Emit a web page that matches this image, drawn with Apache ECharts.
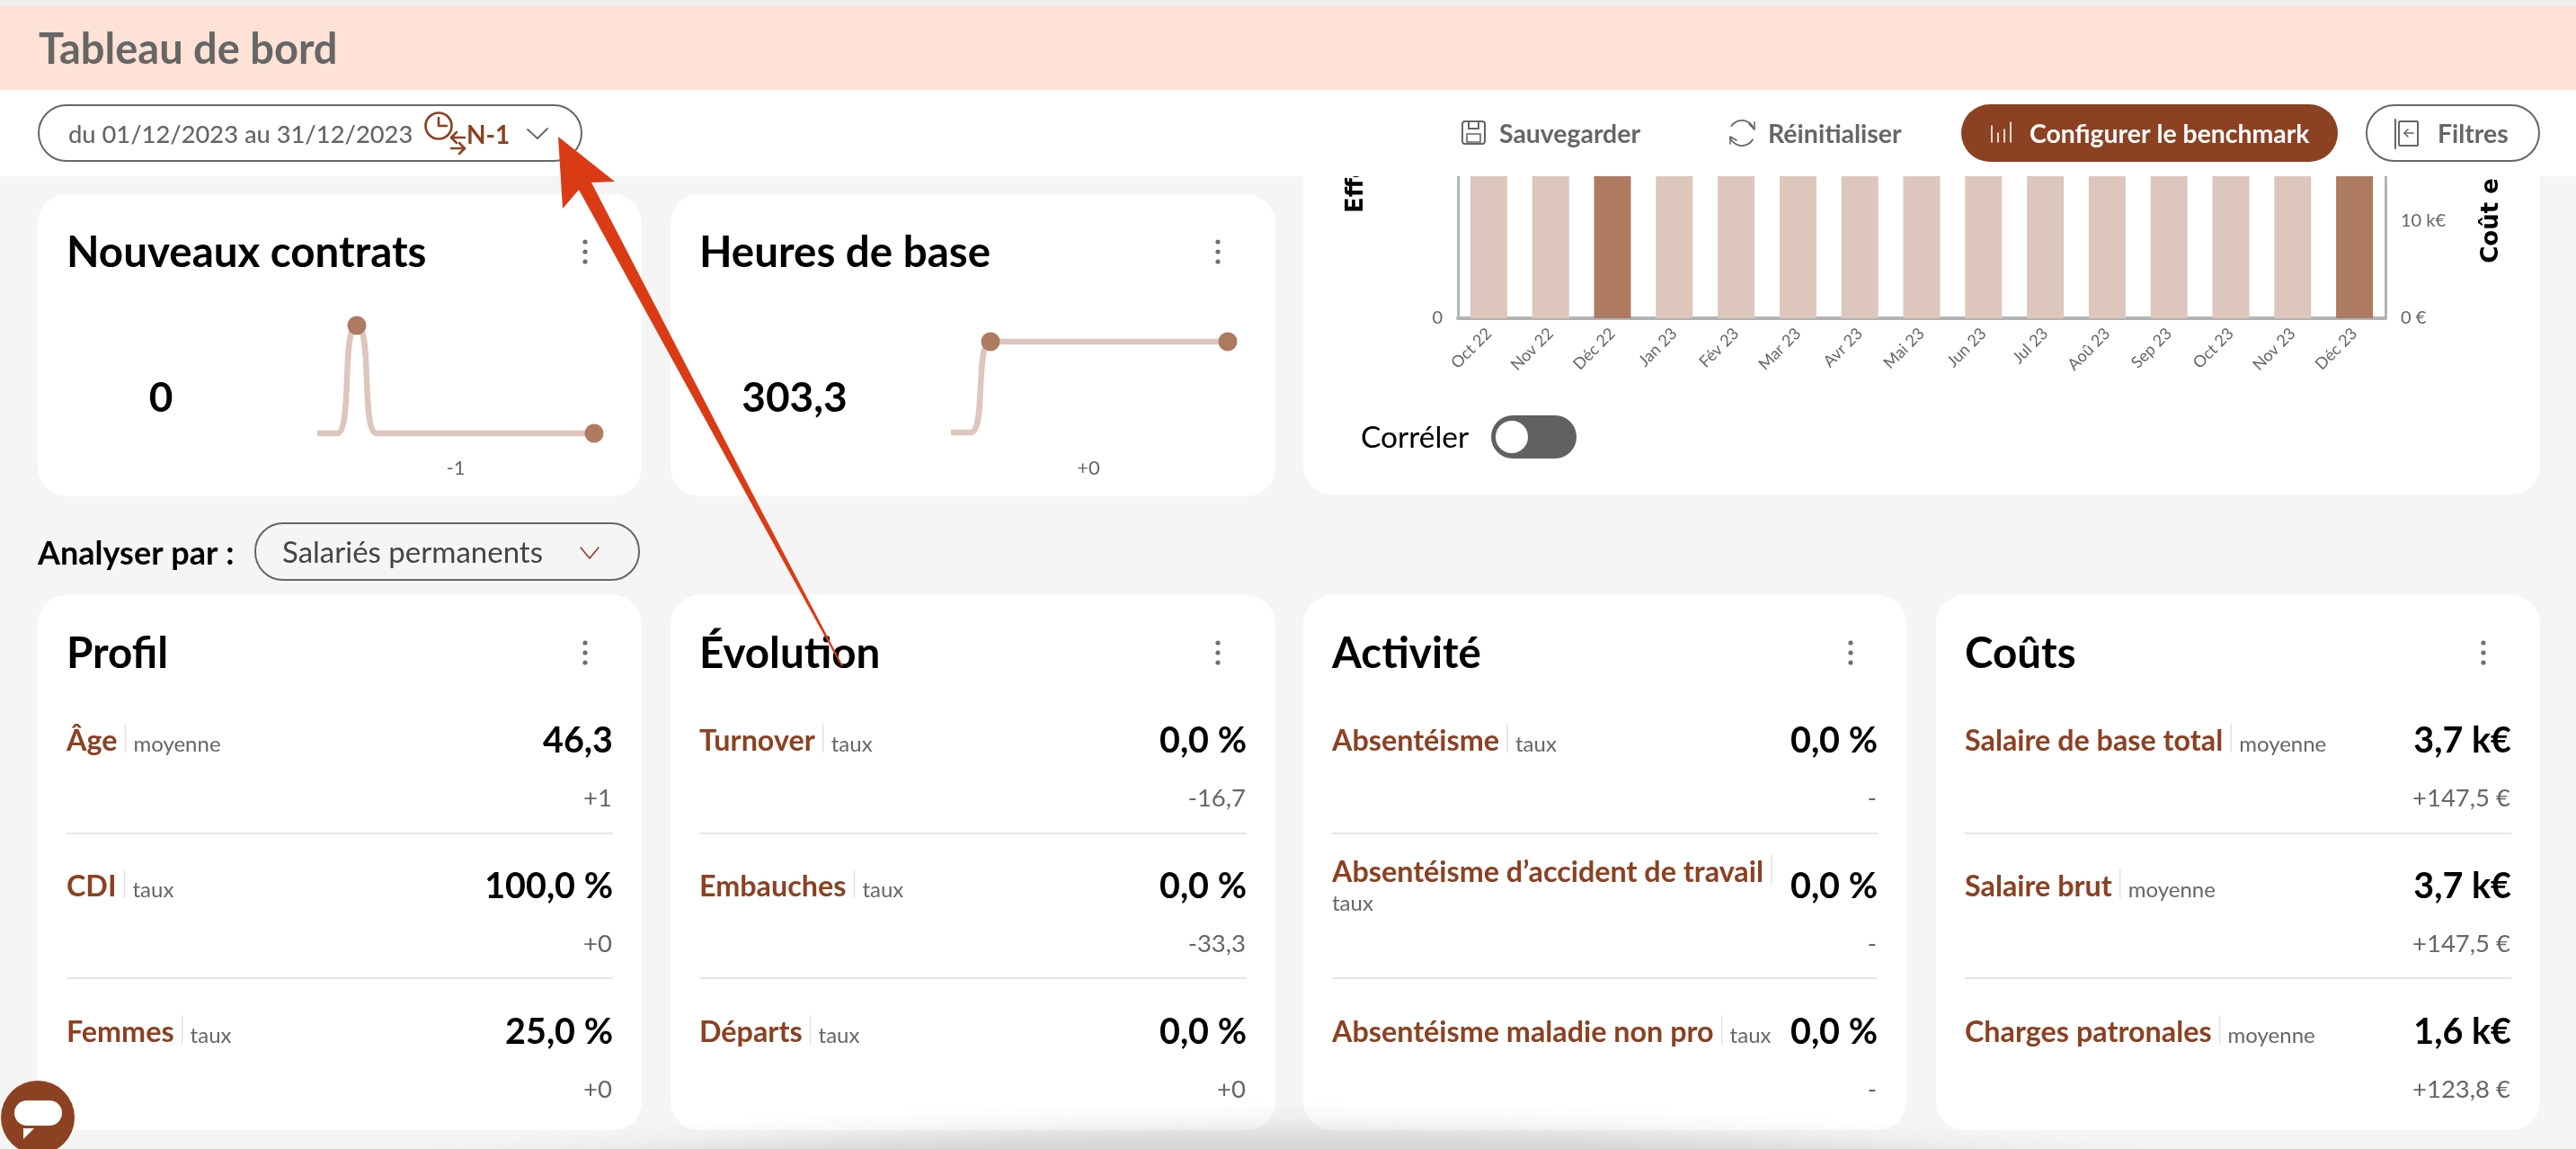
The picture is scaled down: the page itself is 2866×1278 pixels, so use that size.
<!DOCTYPE html>
<html lang="fr">
<head>
<meta charset="utf-8">
<title>Tableau de bord</title>
<style>html,body{margin:0;padding:0;background:#f5f5f5}#c{width:2866px;height:1278px}</style>
<script src="https://cdn.jsdelivr.net/npm/echarts@6/dist/echarts.min.js"></script>
</head>
<body>
<div id="c"></div>
<script>
const months = ['Oct 22','Nov 22','Déc 22','Jan 23','Fév 23','Mar 23','Avr 23','Mai 23','Jun 23','Jul 23','Aoû 23','Sep 23','Oct 23','Nov 23','Déc 23'];
const effectifs = [4,4,4,4,4,4,4,4,4,4,4,4,4,4,4];
const highlighted = ['Déc 22','Déc 23'];
const nouveauxContrats = [0,0,1,0,0,0,0,0,0,0,0,0,0,0,0];
const heuresDeBase = [0,0,303.3,303.3,303.3,303.3,303.3,303.3,303.3,303.3,303.3,303.3,303.3,303.3,303.3];
const profilRows = [['Âge','moyenne','46,3','+1'],['CDI','taux','100,0 %','+0'],['Femmes','taux','25,0 %','+0']];
const evolutionRows = [['Turnover','taux','0,0 %','-16,7'],['Embauches','taux','0,0 %','-33,3'],['Départs','taux','0,0 %','+0']];
const activiteRows = [['Absentéisme','taux','0,0 %','-'],['Absentéisme d’accident de travail','taux','0,0 %','-'],['Absentéisme maladie non pro','taux','0,0 %','-']];
const coutsRows = [['Salaire de base total','moyenne','3,7 k€','+147,5 €'],['Salaire brut','moyenne','3,7 k€','+147,5 €'],['Charges patronales','moyenne','1,6 k€','+123,8 €']];

const BROWN='#8C4122', BAR='#DDC6BC', BARDARK='#AE7A60', GREY='#666666', FONT='Lato';
const measureCtx=document.createElement('canvas').getContext('2d');
function tw(s,size,weight){measureCtx.font=`${weight} ${size}px ${FONT}`;return measureCtx.measureText(s).width;}

const g=[];
function rect(x,y,w,h,r,fill,z,stroke,lw){g.push({type:'rect',z:z,silent:true,shape:{x,y,width:w,height:h,r},style:{fill:fill||'transparent',stroke:stroke||null,lineWidth:lw||0}});}
function text(s,x,y,size,weight,fill,align,z){g.push({type:'text',z:z===undefined?5:z,silent:true,style:{text:s,x,y,fontFamily:FONT,fontSize:size,fontWeight:weight,fill,textAlign:align||'left',textVerticalAlign:'middle',verticalAlign:'middle'}});}
function line(pts,stroke,lw,z){g.push({type:'polyline',z:z===undefined?5:z,silent:true,shape:{points:pts},style:{stroke,lineWidth:lw,fill:null,lineCap:'round',lineJoin:'round'}});}
function circle(cx,cy,r,fill,z,stroke,lw){g.push({type:'circle',z:z===undefined?5:z,silent:true,shape:{cx,cy,r},style:{fill:fill||'transparent',stroke:stroke||null,lineWidth:lw||0}});}
function kebab(x,y){[-11,0,11].forEach(d=>circle(x,y+d,2.6,'#6f6f6f',5));}

/* --- cards --- */
rect(42,216,672,336,32,'#fff',-10);
rect(746,216,673,336,32,'#fff',-10);
rect(1450,150,1376,400,32,'#fff',-10);
text('Nouveaux contrats',74,282,47.5,700,'#000');
text('Heures de base',778,282,47.5,700,'#000');
kebab(651,280);kebab(1355,280);
text('0',179,443,46,700,'#000','center');
text('303,3',884,443,46,700,'#000','center');
text('-1',507,521,22,400,GREY,'center');
text('+0',1211,521,22,400,GREY,'center');

/* correlate toggle */
text('Corréler',1514,487,33.5,400,'#000');
rect(1659,462,95,48,24,'#616161',3);
circle(1682,486,18,'#fff',4);

/* analyser par */
text('Analyser par :',42,616,36,700,'#000');
rect(284,582,427,63,31,'#f5f5f5',1,'#666',2);
text('Salariés permanents',314,615,33,400,'#444');
line([[646,609],[656,621],[666,609]],BROWN,1.6);

/* KPI cards */
const columns=[[42,672,74,682,'Profil',profilRows,651],[746,673,778,1387,'Évolution',evolutionRows,1355],[1450,671,1482,2089,'Activité',activiteRows,2059],[2154,672,2186,2794,'Coûts',coutsRows,2763]];
const rowY=[823,985,1147], deltaY=[887,1049,1211], divY=[927,1088];
columns.forEach(([cx,cw,l,r,title,rows,kx])=>{
  rect(cx,662,cw,595,32,'#fff',-10);
  text(title,l,728,47.5,700,'#000');
  kebab(kx,726);
  rows.forEach((row,i)=>{
    const w=tw(row[0],32.3,700);
    const wrapped=row[0].includes('accident');
    const y=wrapped?rowY[i]-16:rowY[i];
    text(row[0],l,y+2,32.3,700,BROWN);
    const sx=l+w+9;
    g.push({type:'line',z:5,silent:true,shape:{x1:sx,y1:y-18,x2:sx,y2:y+14},style:{stroke:'#e2e2e2',lineWidth:1.5}});
    if(wrapped) text(row[1],l,y+36,24,400,GREY); else text(row[1],sx+9,y+5,24,400,GREY);
    text(row[2],r,rowY[i]+1,39.5,700,'#000','right');
    text(row[3],r-1,deltaY[i]+1,27.5,400,GREY,'right');
    if(i<2) g.push({type:'line',z:5,silent:true,shape:{x1:l,y1:divY[i],x2:r,y2:divY[i]},style:{stroke:'#E6E6EA',lineWidth:2}});
  });
});

/* --- header --- */
const H=60;
rect(0,100,2866,96,0,'#fff',H);
rect(0,0,2866,6,0,'#ECEEF0',H);
rect(0,6,2866,94,0,'#FEE2D6',H);
text('Tableau de bord',43,56,47,700,GREY,'left',H+1);
rect(43,117,604,62,31,'#fff',H+1,'#666',2);
text('du 01/12/2023 au 31/12/2023',76,150,27.3,500,GREY,'left',H+2);
circle(488,140,14.5,null,H+2,BROWN,2.6);
line([[488,131],[488,140],[497,140]],BROWN,2.6,H+2);
line([[517,153],[502,153]],BROWN,2.5,H+2);line([[508,147],[502,153],[508,159]],BROWN,2.5,H+2);
line([[502,165],[517,165]],BROWN,2.5,H+2);line([[511,159],[517,165],[511,171]],BROWN,2.5,H+2);
text('N-1',519,151,28,700,BROWN,'left',H+2);
line([[587,144],[598,154],[609,143]],GREY,1.8,H+2);

rect(1627,135,25,25,3,null,H+2,GREY,2);
rect(1634,135,11,8,0,null,H+2,GREY,2);
rect(1632,149,15,9,0,null,H+2,GREY,1.6);
text('Sauvegarder',1668,150,28.4,700,GREY,'left',H+2);

g.push({type:'arc',z:H+2,silent:true,shape:{cx:1938,cy:148,r:14,startAngle:-2.6,endAngle:-0.3},style:{stroke:GREY,lineWidth:1.8,fill:null}});
g.push({type:'arc',z:H+2,silent:true,shape:{cx:1938,cy:148,r:14,startAngle:0.5,endAngle:2.85},style:{stroke:GREY,lineWidth:1.8,fill:null}});
line([[1946,138],[1952,144],[1952,136]],GREY,1.6,H+2);
line([[1925,160],[1925,152],[1932,156]],GREY,1.6,H+2);
text('Réinitialiser',1967,150,28.5,700,GREY,'left',H+2);

rect(2182,116,419,64,32,BROWN,H+1);
[[2216,148,166],[2223,156,166],[2230,152,166],[2237,144,166]].forEach(p=>line([[p[0],p[1]-8],[p[0],p[2]-8]],'#fff',1.6,H+2));
text('Configurer le benchmark',2258,150,28.4,700,'#fff','left',H+2);

rect(2633,117,192,62,31,'#fff',H+1,'#666',2);
rect(2669,135,21,27,1,null,H+2,GREY,2);
line([[2665,133],[2665,165]],GREY,2,H+2);
line([[2685,148],[2675,148]],GREY,1.6,H+2);line([[2679,144],[2675,148],[2679,152]],GREY,1.6,H+2);
text('Filtres',2712,150,28.4,700,GREY,'left',H+2);

/* --- page bottom shadow --- */
g.push({type:'circle',z:70,silent:true,shape:{cx:1433,cy:11225,r:10000},style:{fill:{type:'radial',x:0.5,y:0.5,r:0.5,colorStops:[{offset:0,color:'rgba(0,0,0,0.14)'},{offset:0.9955,color:'rgba(0,0,0,0.12)'},{offset:0.998,color:'rgba(0,0,0,0.03)'},{offset:1,color:'rgba(0,0,0,0)'}]}}});

/* --- chat bubble --- */
circle(42,1243,41,BROWN,71);
rect(16,1224,53,28,14,'#fff',72);
g.push({type:'polygon',z:72,silent:true,shape:{points:[[26,1255],[38,1255],[26,1267]]},style:{fill:'#fff'}});

/* --- annotation arrow --- */
g.push({type:'polygon',z:80,silent:true,shape:{points:[[621,152],[684,202],[658,203],[843,560],[938,741],[936,741],[836,560],[644,211],[626,232]]},style:{fill:'#DB3B14'}});

function spark(gridIdx,data){return {type:'line',xAxisIndex:gridIdx,yAxisIndex:gridIdx,data,smooth:0.8,smoothMonotone:'x',clip:false,showAllSymbol:true,silent:true,symbol:'circle',symbolSize:(v,p)=>(highlighted.includes(months[p.dataIndex])?21:0),itemStyle:{color:BARDARK},lineStyle:{color:BAR,width:6.5},animation:false};}

const chart=echarts.init(document.getElementById('c'),null,{width:2866,height:1278});
chart.setOption({
  animation:false,
  backgroundColor:'#f5f5f5',
  graphic:{elements:g},
  grid:[
    {left:353,top:362,width:308,height:120},
    {left:1058,top:380,width:308,height:101},
    {left:1622,top:-6,width:1032,height:360}
  ],
  xAxis:[
    {gridIndex:0,type:'category',data:months,boundaryGap:false,show:false},
    {gridIndex:1,type:'category',data:months,boundaryGap:false,show:false},
    {gridIndex:2,type:'category',data:months,boundaryGap:true,
     axisLine:{show:true,lineStyle:{color:'#B3B3B3',width:4}},axisTick:{show:false},
     axisLabel:{rotate:45,interval:0,color:GREY,fontFamily:FONT,fontSize:18,margin:14}}
  ],
  yAxis:[
    {gridIndex:0,type:'value',min:0,max:1,show:false},
    {gridIndex:1,type:'value',min:0,max:303.3,show:false},
    {gridIndex:2,type:'value',min:0,max:5,interval:5,splitLine:{show:false},axisTick:{show:false},
     axisLine:{show:true,lineStyle:{color:'#B3B3B3',width:3}},
     axisLabel:{color:GREY,fontFamily:FONT,fontSize:20,margin:17,showMaxLabel:false,verticalAlignMinLabel:'middle',padding:[2,0,0,0]},
     name:'Effectifs',nameLocation:'middle',nameRotate:90,nameGap:100,
     nameTextStyle:{fontFamily:'DejaVu Sans',fontWeight:'bold',fontSize:26,color:'#000'}},
    {gridIndex:2,type:'value',position:'right',min:0,max:32727,interval:10000,splitLine:{show:false},axisTick:{show:false},
     axisLine:{show:true,lineStyle:{color:'#B3B3B3',width:3}},
     axisLabel:{color:GREY,fontFamily:FONT,fontSize:20,margin:17,showMaxLabel:false,verticalAlignMinLabel:'middle',padding:[2,0,0,0],formatter:v=>v===0?'0 €':(v/1000)+' k€'},
     name:'Coût en euros €',nameLocation:'middle',nameRotate:90,nameGap:105,
     nameTextStyle:{fontFamily:'DejaVu Sans',fontWeight:'bold',fontSize:26,color:'#000'}}
  ],
  series:[
    spark(0,nouveauxContrats),
    spark(1,heuresDeBase),
    {type:'bar',xAxisIndex:2,yAxisIndex:2,barWidth:41,silent:true,animation:false,
     data:effectifs.map((v,i)=>({value:v,itemStyle:{color:highlighted.includes(months[i])?BARDARK:BAR}}))}
  ]
});
</script>
</body>
</html>
